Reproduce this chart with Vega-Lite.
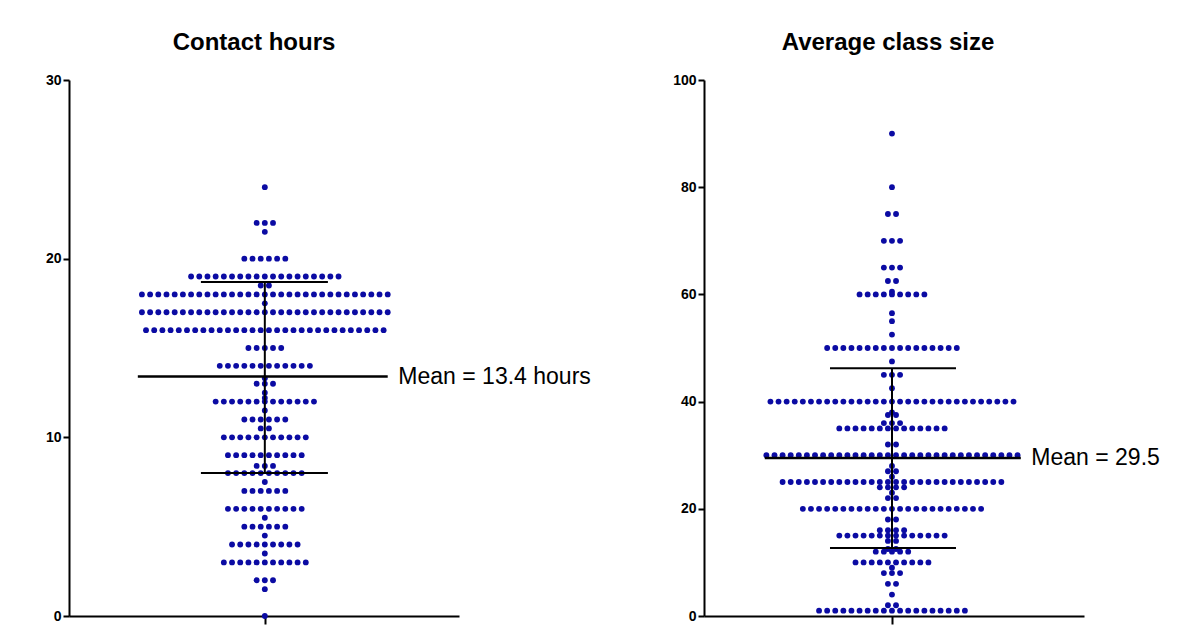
{
  "$schema": "https://vega.github.io/schema/vega-lite/v6.json",
  "background": "white",
  "padding": {"left": 45, "top": 31, "right": 10, "bottom": 10},
  "autosize": {"type": "pad"},
  "config": {
    "font": "Liberation Sans",
    "view": {"stroke": null},
    "axis": {"domainColor": "black", "domainWidth": 2, "tickColor": "black", "tickWidth": 2, "tickSize": 6, "labelColor": "black", "labelFontWeight": "bold", "labelFontSize": 14, "labelPadding": 2, "grid": false},
    "title": {"fontSize": 24, "fontWeight": "bold", "color": "black", "offset": 18}
  },
  "datasets": {
    "hours": [
      {"v":24},
      {"v":22},{"v":22},{"v":22},
      {"v":21.5},
      {"v":20},{"v":20},{"v":20},{"v":20},{"v":20},{"v":20},
      {"v":19},{"v":19},{"v":19},{"v":19},{"v":19},{"v":19},{"v":19},{"v":19},{"v":19},{"v":19},
      {"v":19},{"v":19},{"v":19},{"v":19},{"v":19},{"v":19},{"v":19},{"v":19},{"v":19},
      {"v":18.5},{"v":18.5},
      {"v":18},{"v":18},{"v":18},{"v":18},{"v":18},{"v":18},{"v":18},{"v":18},{"v":18},{"v":18},
      {"v":18},{"v":18},{"v":18},{"v":18},{"v":18},{"v":18},{"v":18},{"v":18},{"v":18},{"v":18},
      {"v":18},{"v":18},{"v":18},{"v":18},{"v":18},{"v":18},{"v":18},{"v":18},{"v":18},{"v":18},
      {"v":18},
      {"v":17.5},
      {"v":17},{"v":17},{"v":17},{"v":17},{"v":17},{"v":17},{"v":17},{"v":17},{"v":17},{"v":17},
      {"v":17},{"v":17},{"v":17},{"v":17},{"v":17},{"v":17},{"v":17},{"v":17},{"v":17},{"v":17},
      {"v":17},{"v":17},{"v":17},{"v":17},{"v":17},{"v":17},{"v":17},{"v":17},{"v":17},{"v":17},
      {"v":17},
      {"v":16},{"v":16},{"v":16},{"v":16},{"v":16},{"v":16},{"v":16},{"v":16},{"v":16},{"v":16},
      {"v":16},{"v":16},{"v":16},{"v":16},{"v":16},{"v":16},{"v":16},{"v":16},{"v":16},{"v":16},
      {"v":16},{"v":16},{"v":16},{"v":16},{"v":16},{"v":16},{"v":16},{"v":16},{"v":16},{"v":16},
      {"v":15},{"v":15},{"v":15},{"v":15},{"v":15},
      {"v":14},{"v":14},{"v":14},{"v":14},{"v":14},{"v":14},{"v":14},{"v":14},{"v":14},{"v":14},
      {"v":14},{"v":14},
      {"v":13.3},
      {"v":13},{"v":13},{"v":13},
      {"v":12.5},
      {"v":12.2},
      {"v":12},{"v":12},{"v":12},{"v":12},{"v":12},{"v":12},{"v":12},{"v":12},{"v":12},{"v":12},
      {"v":12},{"v":12},{"v":12},
      {"v":11.5},
      {"v":11},{"v":11},{"v":11},{"v":11},{"v":11},{"v":11},
      {"v":10.5},{"v":10.5},
      {"v":10},{"v":10},{"v":10},{"v":10},{"v":10},{"v":10},{"v":10},{"v":10},{"v":10},{"v":10},
      {"v":10},
      {"v":9},{"v":9},{"v":9},{"v":9},{"v":9},{"v":9},{"v":9},{"v":9},{"v":9},{"v":9},
      {"v":8.4},{"v":8.4},{"v":8.4},
      {"v":8},{"v":8},{"v":8},{"v":8},{"v":8},{"v":8},{"v":8},{"v":8},{"v":8},{"v":8},
      {"v":7.5},
      {"v":7},{"v":7},{"v":7},{"v":7},{"v":7},{"v":7},
      {"v":6},{"v":6},{"v":6},{"v":6},{"v":6},{"v":6},{"v":6},{"v":6},{"v":6},{"v":6},
      {"v":5.5},
      {"v":5},{"v":5},{"v":5},{"v":5},{"v":5},{"v":5},
      {"v":4.5},
      {"v":4},{"v":4},{"v":4},{"v":4},{"v":4},{"v":4},{"v":4},{"v":4},{"v":4},
      {"v":3.5},
      {"v":3},{"v":3},{"v":3},{"v":3},{"v":3},{"v":3},{"v":3},{"v":3},{"v":3},{"v":3},
      {"v":3},
      {"v":2},{"v":2},{"v":2},
      {"v":1.5},
      {"v":0}
    ],
    "hoursStats": [{"mean": 13.4, "lo": 8.0, "hi": 18.7, "label": "Mean = 13.4 hours"}],
    "size": [
      {"v":90},
      {"v":80},
      {"v":75},{"v":75},
      {"v":70},{"v":70},{"v":70},
      {"v":65},{"v":65},{"v":65},
      {"v":62.5},{"v":62.5},
      {"v":60.5},
      {"v":60},{"v":60},{"v":60},{"v":60},{"v":60},{"v":60},{"v":60},{"v":60},{"v":60},
      {"v":56.5},
      {"v":55},
      {"v":52.5},
      {"v":50},{"v":50},{"v":50},{"v":50},{"v":50},{"v":50},{"v":50},{"v":50},{"v":50},{"v":50},
      {"v":50},{"v":50},{"v":50},{"v":50},{"v":50},{"v":50},{"v":50},
      {"v":47.5},
      {"v":45},{"v":45},{"v":45},
      {"v":42.5},
      {"v":40},{"v":40},{"v":40},{"v":40},{"v":40},{"v":40},{"v":40},{"v":40},{"v":40},{"v":40},
      {"v":40},{"v":40},{"v":40},{"v":40},{"v":40},{"v":40},{"v":40},{"v":40},{"v":40},{"v":40},
      {"v":40},{"v":40},{"v":40},{"v":40},{"v":40},{"v":40},{"v":40},{"v":40},{"v":40},{"v":40},
      {"v":40},
      {"v":38},
      {"v":37.5},{"v":37.5},
      {"v":36},{"v":36},{"v":36},
      {"v":35},{"v":35},{"v":35},{"v":35},{"v":35},{"v":35},{"v":35},{"v":35},{"v":35},{"v":35},
      {"v":35},{"v":35},{"v":35},{"v":35},
      {"v":32},{"v":32},
      {"v":30},{"v":30},{"v":30},{"v":30},{"v":30},{"v":30},{"v":30},{"v":30},{"v":30},{"v":30},
      {"v":30},{"v":30},{"v":30},{"v":30},{"v":30},{"v":30},{"v":30},{"v":30},{"v":30},{"v":30},
      {"v":30},{"v":30},{"v":30},{"v":30},{"v":30},{"v":30},{"v":30},{"v":30},{"v":30},{"v":30},
      {"v":30},{"v":30},
      {"v":28},
      {"v":27},{"v":27},
      {"v":26},
      {"v":25},{"v":25},{"v":25},{"v":25},{"v":25},{"v":25},{"v":25},{"v":25},{"v":25},{"v":25},
      {"v":25},{"v":25},{"v":25},{"v":25},{"v":25},{"v":25},{"v":25},{"v":25},{"v":25},{"v":25},
      {"v":25},{"v":25},{"v":25},{"v":25},{"v":25},{"v":25},{"v":25},{"v":25},
      {"v":24},{"v":24},{"v":24},{"v":24},
      {"v":23},
      {"v":22},{"v":22},
      {"v":20},{"v":20},{"v":20},{"v":20},{"v":20},{"v":20},{"v":20},{"v":20},{"v":20},{"v":20},
      {"v":20},{"v":20},{"v":20},{"v":20},{"v":20},{"v":20},{"v":20},{"v":20},{"v":20},{"v":20},
      {"v":20},{"v":20},{"v":20},
      {"v":18},{"v":18},
      {"v":16},{"v":16},{"v":16},{"v":16},
      {"v":15},{"v":15},{"v":15},{"v":15},{"v":15},{"v":15},{"v":15},{"v":15},{"v":15},{"v":15},
      {"v":15},{"v":15},{"v":15},{"v":15},
      {"v":14},{"v":14},
      {"v":12.5},{"v":12.5},
      {"v":12},{"v":12},{"v":12},{"v":12},{"v":12},
      {"v":10},{"v":10},{"v":10},{"v":10},{"v":10},{"v":10},{"v":10},{"v":10},{"v":10},{"v":10},
      {"v":9},
      {"v":8},{"v":8},{"v":8},
      {"v":6},{"v":6},
      {"v":4},
      {"v":2},{"v":2},
      {"v":1},{"v":1},{"v":1},{"v":1},{"v":1},{"v":1},{"v":1},{"v":1},{"v":1},{"v":1},
      {"v":1},{"v":1},{"v":1},{"v":1},{"v":1},{"v":1},{"v":1},{"v":1},{"v":1}
    ],
    "sizeStats": [{"mean": 29.5, "lo": 12.7, "hi": 46.2, "label": "Mean = 29.5"}]
  },
  "spacing": 245,
  "bounds": "flush",
  "hconcat": [
    {
      "width": 390,
      "height": 536,
      "title": {"text": "Contact hours", "dx": -10},
      "layer": [
        {
          "data": {"name": "hours"},
          "transform": [{"window": [{"op": "row_number", "as": "id"}]}],
          "mark": {"type": "point", "filled": true, "size": 34, "color": "#0b0ba3", "opacity": 1, "strokeWidth": 0},
          "encoding": {
            "x": {"aggregate": "count", "type": "quantitative", "stack": "center", "bandPosition": 0.5,
                  "scale": {"domain": [-8.4, 39.2], "nice": false, "zero": false},
                  "axis": {"values": [15.5], "labels": false, "tickSize": 8, "title": null}},
            "y": {"field": "v", "type": "quantitative",
                  "scale": {"domain": [0, 30], "nice": false},
                  "axis": {"values": [0, 10, 20, 30], "title": null}},
            "detail": {"field": "id"}
          }
        },
        {
          "data": {"name": "hoursStats"},
          "mark": {"type": "rule", "color": "black", "strokeWidth": 2.5},
          "encoding": {
            "x": {"datum": 0, "type": "quantitative", "scale": {"domain": [-8.4, 39.2], "nice": false, "zero": false}, "axis": {"values": [15.5], "labels": false, "tickSize": 8, "title": null}},
            "x2": {"datum": 30.5},
            "y": {"field": "mean", "type": "quantitative", "scale": {"domain": [0, 30], "nice": false}, "axis": {"values": [0, 10, 20, 30], "title": null}}
          }
        },
        {
          "data": {"name": "hoursStats"},
          "mark": {"type": "rule", "color": "black", "strokeWidth": 2},
          "encoding": {
            "x": {"datum": 7.7, "type": "quantitative", "scale": {"domain": [-8.4, 39.2], "nice": false, "zero": false}, "axis": {"values": [15.5], "labels": false, "tickSize": 8, "title": null}},
            "x2": {"datum": 23.2},
            "y": {"field": "lo", "type": "quantitative", "scale": {"domain": [0, 30], "nice": false}, "axis": {"values": [0, 10, 20, 30], "title": null}}
          }
        },
        {
          "data": {"name": "hoursStats"},
          "mark": {"type": "rule", "color": "black", "strokeWidth": 2},
          "encoding": {
            "x": {"datum": 7.7, "type": "quantitative", "scale": {"domain": [-8.4, 39.2], "nice": false, "zero": false}, "axis": {"values": [15.5], "labels": false, "tickSize": 8, "title": null}},
            "x2": {"datum": 23.2},
            "y": {"field": "hi", "type": "quantitative", "scale": {"domain": [0, 30], "nice": false}, "axis": {"values": [0, 10, 20, 30], "title": null}}
          }
        },
        {
          "data": {"name": "hoursStats"},
          "mark": {"type": "rule", "color": "black", "strokeWidth": 2},
          "encoding": {
            "x": {"datum": 15.5, "type": "quantitative", "scale": {"domain": [-8.4, 39.2], "nice": false, "zero": false}, "axis": {"values": [15.5], "labels": false, "tickSize": 8, "title": null}},
            "y": {"field": "lo", "type": "quantitative", "scale": {"domain": [0, 30], "nice": false}, "axis": {"values": [0, 10, 20, 30], "title": null}},
            "y2": {"field": "hi"}
          }
        },
        {
          "data": {"name": "hoursStats"},
          "mark": {"type": "text", "align": "left", "baseline": "middle", "fontSize": 23, "color": "black", "font": "Liberation Sans"},
          "encoding": {
            "x": {"datum": 31.8, "type": "quantitative", "scale": {"domain": [-8.4, 39.2], "nice": false, "zero": false}, "axis": {"values": [15.5], "labels": false, "tickSize": 8, "title": null}},
            "y": {"field": "mean", "type": "quantitative", "scale": {"domain": [0, 30], "nice": false}, "axis": {"values": [0, 10, 20, 30], "title": null}},
            "text": {"field": "label"}
          }
        }
      ]
    },
    {
      "width": 380,
      "height": 536,
      "title": {"text": "Average class size", "dx": -6},
      "layer": [
        {
          "data": {"name": "size"},
          "transform": [{"window": [{"op": "row_number", "as": "id"}]}],
          "mark": {"type": "point", "filled": true, "size": 34, "color": "#0b0ba3", "opacity": 1, "strokeWidth": 0},
          "encoding": {
            "x": {"aggregate": "count", "type": "quantitative", "stack": "center", "bandPosition": 0.5,
                  "scale": {"domain": [-7.2, 39.7], "nice": false, "zero": false},
                  "axis": {"values": [16], "labels": false, "tickSize": 8, "title": null}},
            "y": {"field": "v", "type": "quantitative",
                  "scale": {"domain": [0, 100], "nice": false},
                  "axis": {"values": [0, 20, 40, 60, 80, 100], "title": null}},
            "detail": {"field": "id"}
          }
        },
        {
          "data": {"name": "sizeStats"},
          "mark": {"type": "rule", "color": "black", "strokeWidth": 2.5},
          "encoding": {
            "x": {"datum": 0.3, "type": "quantitative", "scale": {"domain": [-7.2, 39.7], "nice": false, "zero": false}, "axis": {"values": [16], "labels": false, "tickSize": 8, "title": null}},
            "x2": {"datum": 31.9},
            "y": {"field": "mean", "type": "quantitative", "scale": {"domain": [0, 100], "nice": false}, "axis": {"values": [0, 20, 40, 60, 80, 100], "title": null}}
          }
        },
        {
          "data": {"name": "sizeStats"},
          "mark": {"type": "rule", "color": "black", "strokeWidth": 2},
          "encoding": {
            "x": {"datum": 8.35, "type": "quantitative", "scale": {"domain": [-7.2, 39.7], "nice": false, "zero": false}, "axis": {"values": [16], "labels": false, "tickSize": 8, "title": null}},
            "x2": {"datum": 23.9},
            "y": {"field": "lo", "type": "quantitative", "scale": {"domain": [0, 100], "nice": false}, "axis": {"values": [0, 20, 40, 60, 80, 100], "title": null}}
          }
        },
        {
          "data": {"name": "sizeStats"},
          "mark": {"type": "rule", "color": "black", "strokeWidth": 2},
          "encoding": {
            "x": {"datum": 8.35, "type": "quantitative", "scale": {"domain": [-7.2, 39.7], "nice": false, "zero": false}, "axis": {"values": [16], "labels": false, "tickSize": 8, "title": null}},
            "x2": {"datum": 23.9},
            "y": {"field": "hi", "type": "quantitative", "scale": {"domain": [0, 100], "nice": false}, "axis": {"values": [0, 20, 40, 60, 80, 100], "title": null}}
          }
        },
        {
          "data": {"name": "sizeStats"},
          "mark": {"type": "rule", "color": "black", "strokeWidth": 2},
          "encoding": {
            "x": {"datum": 16, "type": "quantitative", "scale": {"domain": [-7.2, 39.7], "nice": false, "zero": false}, "axis": {"values": [16], "labels": false, "tickSize": 8, "title": null}},
            "y": {"field": "lo", "type": "quantitative", "scale": {"domain": [0, 100], "nice": false}, "axis": {"values": [0, 20, 40, 60, 80, 100], "title": null}},
            "y2": {"field": "hi"}
          }
        },
        {
          "data": {"name": "sizeStats"},
          "mark": {"type": "text", "align": "left", "baseline": "middle", "fontSize": 23, "color": "black", "font": "Liberation Sans"},
          "encoding": {
            "x": {"datum": 33.2, "type": "quantitative", "scale": {"domain": [-7.2, 39.7], "nice": false, "zero": false}, "axis": {"values": [16], "labels": false, "tickSize": 8, "title": null}},
            "y": {"field": "mean", "type": "quantitative", "scale": {"domain": [0, 100], "nice": false}, "axis": {"values": [0, 20, 40, 60, 80, 100], "title": null}},
            "text": {"field": "label"}
          }
        }
      ]
    }
  ]
}
